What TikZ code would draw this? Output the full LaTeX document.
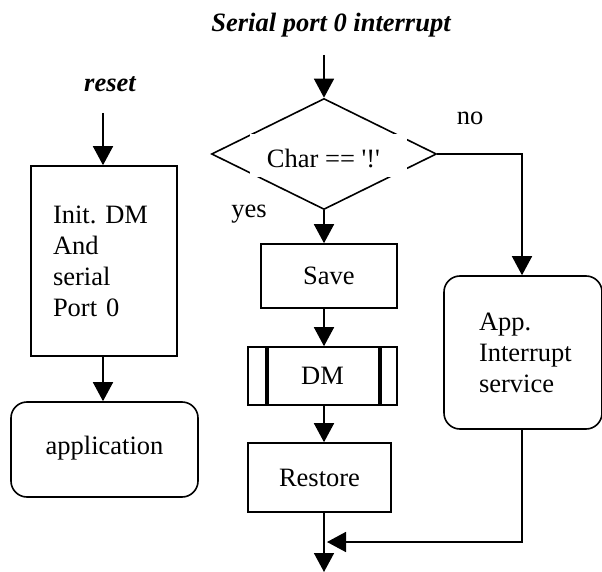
\documentclass[tikz,border=0pt]{standalone}
\usepackage{fontspec}
\setmainfont{Liberation Serif}[Ligatures=TeXOff]
\usetikzlibrary{arrows.meta,shapes.geometric}
\frenchspacing
\begin{document}
\begin{tikzpicture}[x=1pt,y=-1pt,
  every node/.style={font=\fontsize{26.5}{31}\selectfont, text=black},
  box/.style={draw, line width=1.6pt, inner sep=0pt},
  rbox/.style={box, rounded corners=16pt},
  arr/.style={line width=1.6pt, -{Triangle[width=20pt,length=19pt]}},
  ttl/.style={font=\fontsize{26.5}{31}\selectfont\bfseries\itshape, anchor=base}
]
\useasboundingbox (0,0) rectangle (602,572);

% titles
\node[ttl] (title) at (331,32) {Serial port 0 interrupt};
\node[ttl] (reset) at (110,92) {reset};

% left column
\node[box, minimum width=146pt, minimum height=190pt, text width=102pt, inner xsep=22pt, align=left] (init) at (104,261)
  {Init.\ DM\\And\\serial\\Port 0};
\node[rbox, minimum width=187pt, minimum height=95pt] (application) at (104.5,449.5) {\raisebox{8pt}{application}};

% decision
\node[diamond, draw, line width=1.6pt, minimum width=225pt, minimum height=111pt, inner sep=0pt] (dec) at (324,154) {};
\fill[white] (250,134) rectangle (407,177);
\node[anchor=base] (dectext) at (323.5,168) {Char == '!'};
\node[anchor=base] (yes) at (249,217) {yes};
\node[anchor=base] (no) at (470,125) {no};

% middle column
\node[box, minimum width=136pt, minimum height=64pt] (save) at (329,276) {Save};
\node[box, minimum width=149pt, minimum height=58pt] (dm) at (322.5,376) {DM};
\draw[line width=4pt] ([xshift=20pt]dm.north west) -- ([xshift=20pt]dm.south west);
\draw[line width=4pt] ([xshift=-18pt]dm.north east) -- ([xshift=-18pt]dm.south east);
\node[box, minimum width=143pt, minimum height=69pt] (restore) at (319.5,477.5) {Restore};

% right column
\node[rbox, minimum width=158pt, minimum height=153pt, text width=88pt, inner xsep=35pt, align=left] (app) at (523,352.5)
  {App.\\\mbox{Interrupt}\\service};

% coordinates
\coordinate (rin) at (103,113);
\coordinate (tin) at (324,55);
\coordinate (join) at (327,542);
\coordinate (bot) at (324,572);

% connectors
\draw[arr] (rin) -- (rin |- init.north);
\draw[arr] (init.south -| rin) -- (application.north -| rin);
\draw[arr] (tin) -- (dec.north);
\draw[arr] (dec.south) -- (dec.south |- save.north);
\draw[arr] (save.south -| dec.south) -- (dm.north -| dec.south);
\draw[arr] (dm.south -| dec.south) -- (restore.north -| dec.south);
\draw[arr] (restore.south -| dec.south) -- (bot);
\draw[arr] (dec.east) -| ([xshift=-1pt]app.north);
\draw[arr] ([xshift=-1pt]app.south) |- (join);
\end{tikzpicture}
\end{document}
